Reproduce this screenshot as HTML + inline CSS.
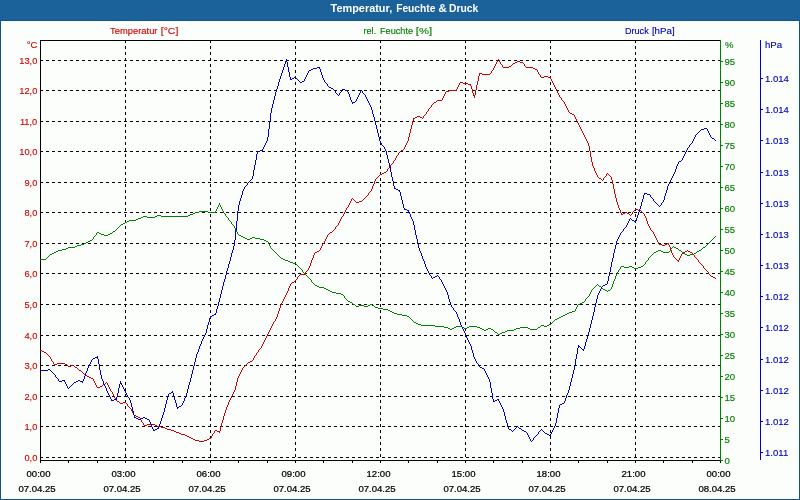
<!DOCTYPE html>
<html lang="de"><head><meta charset="utf-8"><title>Temperatur, Feuchte &amp; Druck</title>
<style>html,body{margin:0;padding:0;background:#fff;overflow:hidden}svg{display:block}</style></head>
<body>
<svg width="800" height="500" viewBox="0 0 800 500" font-family="'Liberation Sans', sans-serif" font-size="10">
<rect x="0" y="0" width="800" height="500" fill="#1c629a"/>
<rect x="0" y="20" width="800" height="480" fill="#11558f"/>
<rect x="1" y="21" width="798" height="478" fill="#fcfefb"/>
<text y="12" fill="#ffffff" font-weight="bold" font-size="10"><tspan x="330.6" textLength="61.6" lengthAdjust="spacingAndGlyphs">Temperatur,</tspan> <tspan x="396.2" textLength="39.2" lengthAdjust="spacingAndGlyphs">Feuchte</tspan> <tspan x="438.2" textLength="8.6" lengthAdjust="spacingAndGlyphs">&amp;</tspan> <tspan x="449.1" textLength="29.2" lengthAdjust="spacingAndGlyphs">Druck</tspan></text>
<text transform="translate(0,34) scale(1,0.95)" fill="#d40000" stroke="#d40000" stroke-width="0.15"><tspan x="110.1" textLength="47.4" lengthAdjust="spacingAndGlyphs">Temperatur</tspan> <tspan x="160.8" textLength="17.5" lengthAdjust="spacingAndGlyphs">[°C]</tspan></text>
<text transform="translate(0,34) scale(1,0.95)" fill="#007c00" stroke="#007c00" stroke-width="0.15"><tspan x="363.4" textLength="12.6" lengthAdjust="spacingAndGlyphs">rel.</tspan> <tspan x="380.0" textLength="33.1" lengthAdjust="spacingAndGlyphs">Feuchte</tspan> <tspan x="415.8" textLength="16.3" lengthAdjust="spacingAndGlyphs">[%]</tspan></text>
<text transform="translate(0,34) scale(1,0.95)" fill="#0000c4" stroke="#0000c4" stroke-width="0.15"><tspan x="625.0" textLength="23.7" lengthAdjust="spacingAndGlyphs">Druck</tspan> <tspan x="651.9" textLength="22.8" lengthAdjust="spacingAndGlyphs">[hPa]</tspan></text>
<g shape-rendering="crispEdges" fill="#000"><line x1="40" y1="60.5" x2="720" y2="60.5" stroke="#000" stroke-width="1" stroke-dasharray="3 3"/><line x1="40" y1="90.5" x2="720" y2="90.5" stroke="#000" stroke-width="1" stroke-dasharray="3 3"/><line x1="40" y1="121.5" x2="720" y2="121.5" stroke="#000" stroke-width="1" stroke-dasharray="3 3"/><line x1="40" y1="151.5" x2="720" y2="151.5" stroke="#000" stroke-width="1" stroke-dasharray="3 3"/><line x1="40" y1="182.5" x2="720" y2="182.5" stroke="#000" stroke-width="1" stroke-dasharray="3 3"/><line x1="40" y1="212.5" x2="720" y2="212.5" stroke="#000" stroke-width="1" stroke-dasharray="3 3"/><line x1="40" y1="243.5" x2="720" y2="243.5" stroke="#000" stroke-width="1" stroke-dasharray="3 3"/><line x1="40" y1="273.5" x2="720" y2="273.5" stroke="#000" stroke-width="1" stroke-dasharray="3 3"/><line x1="40" y1="304.5" x2="720" y2="304.5" stroke="#000" stroke-width="1" stroke-dasharray="3 3"/><line x1="40" y1="335.5" x2="720" y2="335.5" stroke="#000" stroke-width="1" stroke-dasharray="3 3"/><line x1="40" y1="365.5" x2="720" y2="365.5" stroke="#000" stroke-width="1" stroke-dasharray="3 3"/><line x1="40" y1="396.5" x2="720" y2="396.5" stroke="#000" stroke-width="1" stroke-dasharray="3 3"/><line x1="40" y1="426.5" x2="720" y2="426.5" stroke="#000" stroke-width="1" stroke-dasharray="3 3"/><line x1="40" y1="457.5" x2="720" y2="457.5" stroke="#000" stroke-width="1" stroke-dasharray="3 3"/><line x1="125.5" y1="40" x2="125.5" y2="460" stroke="#000" stroke-width="1" stroke-dasharray="3 3"/><line x1="210.5" y1="40" x2="210.5" y2="460" stroke="#000" stroke-width="1" stroke-dasharray="3 3"/><line x1="295.5" y1="40" x2="295.5" y2="460" stroke="#000" stroke-width="1" stroke-dasharray="3 3"/><line x1="380.5" y1="40" x2="380.5" y2="460" stroke="#000" stroke-width="1" stroke-dasharray="3 3"/><line x1="465.5" y1="40" x2="465.5" y2="460" stroke="#000" stroke-width="1" stroke-dasharray="3 3"/><line x1="550.5" y1="40" x2="550.5" y2="460" stroke="#000" stroke-width="1" stroke-dasharray="3 3"/><line x1="635.5" y1="40" x2="635.5" y2="460" stroke="#000" stroke-width="1" stroke-dasharray="3 3"/><rect x="40" y="40" width="681" height="1"/><rect x="40" y="40" width="1" height="421"/><rect x="40" y="460" width="681" height="1"/><rect x="40" y="461" width="1" height="2"/><rect x="68" y="461" width="1" height="2"/><rect x="97" y="461" width="1" height="2"/><rect x="125" y="461" width="1" height="2"/><rect x="153" y="461" width="1" height="2"/><rect x="182" y="461" width="1" height="2"/><rect x="210" y="461" width="1" height="2"/><rect x="238" y="461" width="1" height="2"/><rect x="267" y="461" width="1" height="2"/><rect x="295" y="461" width="1" height="2"/><rect x="323" y="461" width="1" height="2"/><rect x="352" y="461" width="1" height="2"/><rect x="380" y="461" width="1" height="2"/><rect x="408" y="461" width="1" height="2"/><rect x="437" y="461" width="1" height="2"/><rect x="465" y="461" width="1" height="2"/><rect x="493" y="461" width="1" height="2"/><rect x="522" y="461" width="1" height="2"/><rect x="550" y="461" width="1" height="2"/><rect x="578" y="461" width="1" height="2"/><rect x="607" y="461" width="1" height="2"/><rect x="635" y="461" width="1" height="2"/><rect x="663" y="461" width="1" height="2"/><rect x="692" y="461" width="1" height="2"/><rect x="720" y="461" width="1" height="2"/></g>
<g shape-rendering="crispEdges" fill="#008000"><rect x="720" y="40" width="1" height="421"/><rect x="721" y="460" width="2" height="1"/><rect x="721" y="439" width="2" height="1"/><rect x="721" y="418" width="2" height="1"/><rect x="721" y="397" width="2" height="1"/><rect x="721" y="376" width="2" height="1"/><rect x="721" y="355" width="2" height="1"/><rect x="721" y="334" width="2" height="1"/><rect x="721" y="313" width="2" height="1"/><rect x="721" y="292" width="2" height="1"/><rect x="721" y="271" width="2" height="1"/><rect x="721" y="250" width="2" height="1"/><rect x="721" y="229" width="2" height="1"/><rect x="721" y="208" width="2" height="1"/><rect x="721" y="187" width="2" height="1"/><rect x="721" y="166" width="2" height="1"/><rect x="721" y="145" width="2" height="1"/><rect x="721" y="124" width="2" height="1"/><rect x="721" y="103" width="2" height="1"/><rect x="721" y="82" width="2" height="1"/><rect x="721" y="61" width="2" height="1"/></g>
<g fill="#007c00" stroke="#007c00" stroke-width="0.15"><text transform="translate(725,48) scale(0.957,0.95)">%</text><text transform="translate(724.5,464) scale(0.957,0.95)">0</text><text transform="translate(724.5,443) scale(0.957,0.95)">5</text><text transform="translate(724.5,422) scale(0.957,0.95)">10</text><text transform="translate(724.5,401) scale(0.957,0.95)">15</text><text transform="translate(724.5,380) scale(0.957,0.95)">20</text><text transform="translate(724.5,359) scale(0.957,0.95)">25</text><text transform="translate(724.5,338) scale(0.957,0.95)">30</text><text transform="translate(724.5,317) scale(0.957,0.95)">35</text><text transform="translate(724.5,296) scale(0.957,0.95)">40</text><text transform="translate(724.5,275) scale(0.957,0.95)">45</text><text transform="translate(724.5,254) scale(0.957,0.95)">50</text><text transform="translate(724.5,233) scale(0.957,0.95)">55</text><text transform="translate(724.5,212) scale(0.957,0.95)">60</text><text transform="translate(724.5,191) scale(0.957,0.95)">65</text><text transform="translate(724.5,170) scale(0.957,0.95)">70</text><text transform="translate(724.5,149) scale(0.957,0.95)">75</text><text transform="translate(724.5,128) scale(0.957,0.95)">80</text><text transform="translate(724.5,107) scale(0.957,0.95)">85</text><text transform="translate(724.5,86) scale(0.957,0.95)">90</text><text transform="translate(724.5,65) scale(0.957,0.95)">95</text></g>
<g shape-rendering="crispEdges" fill="#0000cc"><rect x="760" y="40" width="1" height="420"/><rect x="761" y="78" width="2" height="1"/><rect x="761" y="109" width="2" height="1"/><rect x="761" y="140" width="2" height="1"/><rect x="761" y="172" width="2" height="1"/><rect x="761" y="203" width="2" height="1"/><rect x="761" y="234" width="2" height="1"/><rect x="761" y="265" width="2" height="1"/><rect x="761" y="296" width="2" height="1"/><rect x="761" y="327" width="2" height="1"/><rect x="761" y="359" width="2" height="1"/><rect x="761" y="390" width="2" height="1"/><rect x="761" y="421" width="2" height="1"/><rect x="761" y="452" width="2" height="1"/></g>
<g fill="#0000c4" stroke="#0000c4" stroke-width="0.15"><text transform="translate(765,48) scale(0.957,0.95)">hPa</text><text transform="translate(765,82) scale(0.957,0.95)">1.014</text><text transform="translate(765,113) scale(0.957,0.95)">1.014</text><text transform="translate(765,144) scale(0.957,0.95)">1.013</text><text transform="translate(765,176) scale(0.957,0.95)">1.013</text><text transform="translate(765,207) scale(0.957,0.95)">1.013</text><text transform="translate(765,238) scale(0.957,0.95)">1.013</text><text transform="translate(765,269) scale(0.957,0.95)">1.013</text><text transform="translate(765,300) scale(0.957,0.95)">1.012</text><text transform="translate(765,331) scale(0.957,0.95)">1.012</text><text transform="translate(765,363) scale(0.957,0.95)">1.012</text><text transform="translate(765,394) scale(0.957,0.95)">1.012</text><text transform="translate(765,425) scale(0.957,0.95)">1.012</text><text transform="translate(765,456) scale(0.957,0.95)">1.011</text></g>
<g fill="#d40000" stroke="#d40000" stroke-width="0.15"><text transform="translate(37.5,48) scale(0.957,0.95)" text-anchor="end">°C</text><text transform="translate(37.3,64) scale(0.93,0.95)" text-anchor="end">13,0</text><text transform="translate(37.3,94) scale(0.93,0.95)" text-anchor="end">12,0</text><text transform="translate(37.3,125) scale(0.93,0.95)" text-anchor="end">11,0</text><text transform="translate(37.3,155) scale(0.93,0.95)" text-anchor="end">10,0</text><text transform="translate(37.3,186) scale(0.93,0.95)" text-anchor="end">9,0</text><text transform="translate(37.3,216) scale(0.93,0.95)" text-anchor="end">8,0</text><text transform="translate(37.3,247) scale(0.93,0.95)" text-anchor="end">7,0</text><text transform="translate(37.3,277) scale(0.93,0.95)" text-anchor="end">6,0</text><text transform="translate(37.3,308) scale(0.93,0.95)" text-anchor="end">5,0</text><text transform="translate(37.3,339) scale(0.93,0.95)" text-anchor="end">4,0</text><text transform="translate(37.3,369) scale(0.93,0.95)" text-anchor="end">3,0</text><text transform="translate(37.3,400) scale(0.93,0.95)" text-anchor="end">2,0</text><text transform="translate(37.3,430) scale(0.93,0.95)" text-anchor="end">1,0</text><text transform="translate(37.3,461) scale(0.93,0.95)" text-anchor="end">0,0</text></g>
<g fill="#000" stroke="#000" stroke-width="0.25"><text transform="translate(38.5,477) scale(0.957,0.95)" text-anchor="middle">00:00</text><text transform="translate(37,492) scale(0.957,0.95)" text-anchor="middle">07.04.25</text><text transform="translate(123.5,477) scale(0.957,0.95)" text-anchor="middle">03:00</text><text transform="translate(122,492) scale(0.957,0.95)" text-anchor="middle">07.04.25</text><text transform="translate(208.5,477) scale(0.957,0.95)" text-anchor="middle">06:00</text><text transform="translate(207,492) scale(0.957,0.95)" text-anchor="middle">07.04.25</text><text transform="translate(293.5,477) scale(0.957,0.95)" text-anchor="middle">09:00</text><text transform="translate(292,492) scale(0.957,0.95)" text-anchor="middle">07.04.25</text><text transform="translate(378.5,477) scale(0.957,0.95)" text-anchor="middle">12:00</text><text transform="translate(377,492) scale(0.957,0.95)" text-anchor="middle">07.04.25</text><text transform="translate(463.5,477) scale(0.957,0.95)" text-anchor="middle">15:00</text><text transform="translate(462,492) scale(0.957,0.95)" text-anchor="middle">07.04.25</text><text transform="translate(548.5,477) scale(0.957,0.95)" text-anchor="middle">18:00</text><text transform="translate(547,492) scale(0.957,0.95)" text-anchor="middle">07.04.25</text><text transform="translate(633.5,477) scale(0.957,0.95)" text-anchor="middle">21:00</text><text transform="translate(632,492) scale(0.957,0.95)" text-anchor="middle">07.04.25</text><text transform="translate(718.5,477) scale(0.957,0.95)" text-anchor="middle">00:00</text><text transform="translate(717,492) scale(0.957,0.95)" text-anchor="middle">08.04.25</text></g>
<path d="M143 216.5h4M155 216.5h2M161 216.5h27M97 232.5h2M326 289.5h2M603 289.5h2M245 238.5h2M250 238.5h2M255 238.5h5M68 247.5h7M674 247.5h2M703 247.5h2M444 327.5h4M454 327.5h2M462 327.5h2M467 327.5h2M477 327.5h3M520 327.5h8M538 327.5h2M378 308.5h5M484 330.5h2M507 330.5h7M66 248.5h2M676 248.5h2M199 211.5h9M621 266.5h3M629 266.5h3M641 266.5h2M101 234.5h3M108 234.5h2M40 259.5h6M283 259.5h2M435 326.5h9M456 326.5h6M469 326.5h8M544 326.5h3M450 329.5h2M482 329.5h2M486 329.5h2M491 329.5h2M514 329.5h2M530 329.5h7M330 291.5h2M75 246.5h2M56 251.5h2M656 251.5h2M661 251.5h2M697 251.5h2M390 311.5h2M572 311.5h3M50 254.5h2M685 254.5h2M690 254.5h4M195 212.5h4M208 212.5h8M324 288.5h2M123 223.5h2M687 255.5h3M350 302.5h2M582 302.5h2M190 214.5h3M448 328.5h2M452 328.5h2M464 328.5h3M480 328.5h2M488 328.5h3M516 328.5h4M528 328.5h2M416 323.5h2M121 224.5h2M141 217.5h2M147 217.5h8M247 239.5h3M260 239.5h4M90 240.5h2M264 240.5h2M86 242.5h2M421 325.5h14M541 325.5h3M547 325.5h2M62 249.5h4M394 313.5h3M567 313.5h2M383 309.5h5M52 253.5h2M683 253.5h2M694 253.5h2M418 324.5h3M549 324.5h2M77 245.5h4M495 332.5h2M502 332.5h3M293 263.5h3M328 290.5h2M605 290.5h2M608 290.5h2M634 268.5h4M397 314.5h5M565 314.5h2M498 334.5h2M414 322.5h2M243 237.5h2M252 237.5h3M99 233.5h2M110 233.5h2M359 305.5h5M368 305.5h2M372 305.5h2M317 286.5h2M599 286.5h2M505 331.5h2M353 304.5h2M370 304.5h2M578 304.5h2M392 312.5h2M569 312.5h3M104 235.5h4M239 235.5h2M81 244.5h3M113 231.5h2M332 292.5h4M402 315.5h5M563 315.5h2M388 310.5h2M290 262.5h3M136 219.5h2M281 258.5h2M319 287.5h5M624 267.5h5M632 267.5h2M638 267.5h3M129 220.5h7M336 293.5h5M125 222.5h2M555 319.5h2M58 250.5h4M658 250.5h3M679 250.5h2M699 250.5h2M157 215.5h4M188 215.5h2M559 317.5h2M241 236.5h2M356 306.5h3M364 306.5h4M193 213.5h2M375 307.5h3M138 218.5h3M407 316.5h2M561 316.5h2M54 252.5h2M654 252.5h2M663 252.5h6M500 333.5h2M557 318.5h2M285 260.5h3M315 285.5h2M88 241.5h2M266 241.5h2M341 294.5h2M127 221.5h2M84 243.5h2M348 301.5h2M580 303.5h2M288 261.5h2M237.5 232v2M274.5 251v1M591.5 290v2M592.5 289v1M225.5 214v2M270.5 246v2M234.5 226v2M224.5 213v1M309.5 278v1M226.5 216v1M46.5 258v1M271.5 248v1M537.5 328v1M589.5 294v2M648.5 258v2M96.5 233v2M540.5 326v1M607.5 291v1M119.5 226v1M374.5 306v1M671.5 248v1M588.5 296v1M672.5 247v1M231.5 222v2M268.5 242v2M120.5 225v1M95.5 235v1M277.5 254v1M590.5 292v2M346.5 299v1M219.5 203v2M272.5 249v1M611.5 287v2M601.5 287v1M118.5 227v1M585.5 299v2M670.5 249v2M587.5 297v1M93.5 237v2M347.5 300v1M586.5 298v1M278.5 255v1M713.5 238v1M235.5 228v2M615.5 276v3M602.5 288v1M497.5 333v1M223.5 211v2M301.5 269v1M232.5 224v1M711.5 240v1M712.5 239v1M314.5 284v1M216.5 209v2M233.5 225v1M576.5 307v2M217.5 207v2M218.5 205v2M279.5 256v1M653.5 253v1M236.5 230v2M613.5 281v3M221.5 207v2M617.5 272v2M619.5 269v1M618.5 270v2M620.5 267v2M275.5 252v1M682.5 252v1M612.5 284v3M311.5 280v2M269.5 244v2M575.5 309v2M577.5 305v2M220.5 205v2M344.5 296v2M276.5 253v1M645.5 262v2M598.5 285v1M302.5 270v2M312.5 282v1M714.5 237v1M616.5 274v2M112.5 232v1M494.5 331v1M117.5 228v1M303.5 272v1M49.5 255v1M610.5 289v1M116.5 229v1M614.5 279v2M222.5 209v2M47.5 257v1M410.5 318v1M553.5 321v1M554.5 320v1M115.5 230v1M709.5 242v1M710.5 241v1M552.5 322v1M228.5 218v2M280.5 257v1M343.5 295v1M707.5 244v1M310.5 279v1M708.5 243v1M651.5 255v1M597.5 284v1M306.5 275v1M355.5 305v1M647.5 260v1M649.5 257v1M595.5 286v1M596.5 285v1M493.5 330v1M229.5 220v1M643.5 265v1M646.5 261v1M594.5 287v1M313.5 283v1M307.5 276v1M238.5 234v1M230.5 221v1M215.5 211v1M678.5 249v1M48.5 256v1M308.5 277v1M681.5 251v1M409.5 317v1M304.5 273v1M298.5 266v1M673.5 246v1M652.5 254v1M299.5 267v1M411.5 319v1M345.5 298v1M669.5 251v1M650.5 256v1M227.5 217v1M715.5 236v1M305.5 274v1M352.5 303v1M702.5 248v1M551.5 323v1M273.5 250v1M300.5 268v1M92.5 239v1M701.5 249v1M706.5 245v1M94.5 236v1M412.5 320v1M296.5 264v1M584.5 301v1M413.5 321v1M705.5 246v1M593.5 288v1M644.5 264v1M696.5 252v1M297.5 265v1" fill="none" stroke="#008000" stroke-width="1" shape-rendering="crispEdges"/>
<path d="M120 403.5h3M165 428.5h2M503 67.5h6M526 67.5h7M517 61.5h3M667 243.5h2M356 202.5h3M167 429.5h4M570 113.5h2M515 62.5h2M520 62.5h3M446 91.5h3M533 68.5h2M147 424.5h8M248 362.5h2M659 244.5h3M665 244.5h2M382 173.5h2M380 174.5h2M449 90.5h8M662 245.5h3M359 201.5h3M176 432.5h3M482 74.5h8M75 367.5h2M57 363.5h8M401 150.5h2M97 387.5h3M437 100.5h5M713 277.5h2M625 212.5h2M181 434.5h4M171 430.5h3M215 430.5h2M71 365.5h3M623 213.5h2M627 213.5h2M174 431.5h2M217 431.5h3M509 66.5h2M191 438.5h2M209 438.5h2M513 63.5h2M544 76.5h4M138 417.5h2M42 351.5h2M635 209.5h3M711 276.5h2M195 440.5h4M204 440.5h3M384 172.5h2M87 376.5h2M179 433.5h2M677 260.5h2M479 73.5h3M638 210.5h3M315 252.5h2M683 252.5h2M690 252.5h2M300 274.5h5M89 377.5h2M417 116.5h3M100 386.5h2M91 378.5h2M84 374.5h2M123 402.5h3M54 364.5h3M65 364.5h2M157 426.5h4M199 441.5h5M68 366.5h3M460 82.5h3M250 361.5h2M134 415.5h2M415 117.5h2M420 117.5h2M144 425.5h3M155 425.5h2M541 77.5h3M548 77.5h3M187 436.5h2M413 118.5h2M317 251.5h2M685 251.5h2M688 251.5h2M161 427.5h4M330 232.5h2M621 214.5h2M572 114.5h2M473 95.5h2M468 84.5h3M40 350.5h2M463 83.5h5M535 69.5h2M44 352.5h2M189 437.5h2M434 102.5h2M185 435.5h2M193 439.5h2M207 439.5h2M103 384.5h2M599 178.5h2M136 416.5h2M292 282.5h2M79 370.5h2M117 401.5h2M228.5 402v3M476.5 85v5M320.5 248v2M610.5 176v1M499.5 60v2M276.5 317v2M332.5 231v1M410.5 129v4M658.5 242v2M252.5 360v1M617.5 202v3M699.5 262v1M426.5 112v2M500.5 62v2M280.5 305v3M672.5 253v2M47.5 354v1M391.5 164v1M552.5 81v2M613.5 184v5M592.5 162v4M223.5 416v4M700.5 263v1M113.5 394v2M606.5 174v2M227.5 405v2M475.5 90v5M706.5 270v1M308.5 268v2M355.5 201v1M375.5 179v2M240.5 372v2M398.5 153v2M267.5 334v2M588.5 143v3M279.5 308v3M291.5 283v1M311.5 260v3M222.5 420v3M620.5 210v3M411.5 125v4M584.5 135v2M295.5 280v1M335.5 227v2M77.5 368v1M681.5 254v2M235.5 386v4M632.5 212v2M132.5 411v2M284.5 297v2M351.5 199v2M585.5 137v2M472.5 89v4M374.5 181v3M614.5 189v5M394.5 160v1M698.5 260v2M239.5 374v2M263.5 342v2M406.5 143v2M551.5 79v2M680.5 256v2M350.5 201v2M259.5 349v1M494.5 66v2M591.5 157v5M262.5 344v2M327.5 235v2M643.5 213v1M409.5 133v4M646.5 218v3M319.5 250v1M587.5 141v2M298.5 276v1M275.5 319v2M595.5 171v2M243.5 367v1M445.5 92v2M346.5 208v2M601.5 179v1M366.5 196v1M46.5 353v1M369.5 192v1M657.5 240v2M338.5 223v2M490.5 73v1M581.5 129v2M323.5 243v1M456.5 89v1M602.5 180v1M471.5 86v3M650.5 228v2M502.5 65v2M271.5 326v2M429.5 108v1M675.5 258v1M342.5 216v1M616.5 198v4M687.5 250v1M310.5 263v3M143.5 423v2M676.5 259v1M234.5 390v2M246.5 364v1M709.5 274v1M598.5 177v1M619.5 208v2M405.5 145v2M226.5 407v3M131.5 409v2M594.5 168v3M605.5 176v1M580.5 127v2M432.5 104v1M478.5 76v5M679.5 258v2M377.5 177v1M266.5 336v2M649.5 226v2M278.5 311v3M290.5 284v2M258.5 350v2M231.5 396v2M436.5 101v1M671.5 250v3M82.5 372v1M612.5 180v4M397.5 155v1M653.5 232v2M229.5 400v2M615.5 194v4M283.5 299v2M83.5 373v1M645.5 216v2M373.5 184v2M597.5 175v2M345.5 210v2M474.5 96v2M412.5 121v4M708.5 272v2M277.5 314v3M334.5 229v1M130.5 408v1M213.5 433v1M590.5 151v6M393.5 161v2M372.5 186v3M425.5 114v1M270.5 328v2M428.5 109v2M583.5 133v2M349.5 203v2M524.5 64v2M341.5 217v2M261.5 346v2M694.5 255v2M656.5 238v2M408.5 137v4M388.5 168v1M105.5 383v1M400.5 151v1M423.5 116v2M648.5 224v2M67.5 365v1M221.5 423v4M670.5 247v3M459.5 83v2M404.5 147v2M444.5 94v2M701.5 264v1M305.5 272v2M225.5 410v3M337.5 225v1M119.5 402v1M634.5 210v1M294.5 281v1M596.5 173v2M238.5 376v2M473.5 93v2M497.5 60v2M431.5 105v2M309.5 266v2M618.5 205v3M265.5 338v2M254.5 356v2M289.5 286v2M579.5 125v2M224.5 413v3M561.5 98v2M78.5 369v1M233.5 392v2M582.5 131v2M523.5 63v1M493.5 68v2M48.5 355v1M237.5 378v4M141.5 420v2M576.5 119v2M297.5 277v2M715.5 278v1M52.5 361v1M589.5 146v5M115.5 398v2M93.5 379v2M220.5 427v4M232.5 394v2M368.5 193v2M371.5 189v2M236.5 382v4M678.5 261v1M477.5 81v4M269.5 330v2M348.5 205v2M272.5 324v2M340.5 219v2M604.5 177v1M396.5 156v2M568.5 110v2M557.5 91v2M51.5 359v2M655.5 236v2M578.5 123v2M344.5 212v2M96.5 385v2M651.5 230v1M245.5 365v1M140.5 418v2M652.5 231v1M212.5 434v2M703.5 266v2M575.5 117v2M352.5 198v1M288.5 288v3M704.5 268v1M74.5 366v1M710.5 275v1M387.5 169v2M390.5 165v2M607.5 173v1M379.5 175v1M511.5 65v1M126.5 403v1M492.5 70v1M611.5 177v3M458.5 85v2M692.5 253v1M257.5 352v1M260.5 348v1M654.5 234v2M363.5 199v1M577.5 121v2M255.5 355v1M496.5 62v2M647.5 221v3M95.5 383v2M114.5 396v2M264.5 340v2M669.5 245v2M603.5 178v2M559.5 95v2M538.5 72v2M422.5 118v1M567.5 108v2M560.5 97v1M399.5 152v1M219.5 432v1M211.5 436v2M525.5 66v1M268.5 332v2M556.5 89v2M50.5 357v2M307.5 270v1M110.5 389v2M574.5 115v2M296.5 279v1M339.5 221v2M94.5 381v2M457.5 87v2M558.5 93v2M537.5 70v2M566.5 106v2M343.5 214v2M495.5 64v2M695.5 257v1M287.5 291v2M53.5 362v2M299.5 275v1M326.5 237v2M314.5 253v2M49.5 356v1M631.5 214v1M702.5 265v1M370.5 191v1M142.5 422v1M491.5 71v2M274.5 321v1M102.5 385v1M322.5 244v2M433.5 103v1M365.5 197v1M668.5 244v1M127.5 404v2M106.5 382v1M569.5 112v1M540.5 75v2M128.5 406v1M479.5 74v2M247.5 363v1M562.5 100v1M282.5 301v2M565.5 104v2M555.5 87v2M362.5 200v1M214.5 431v2M242.5 368v2M116.5 400v1M109.5 387v2M347.5 207v1M705.5 269v1M286.5 293v2M230.5 398v2M608.5 174v1M609.5 175v1M693.5 254v1M413.5 119v2M554.5 85v2M682.5 253v1M329.5 233v1M112.5 392v2M353.5 199v1M333.5 230v1M253.5 358v2M108.5 385v2M354.5 200v1M389.5 167v1M313.5 255v3M641.5 211v1M424.5 115v1M325.5 239v2M281.5 303v2M642.5 212v1M593.5 166v2M376.5 178v1M241.5 370v2M539.5 74v1M443.5 96v2M273.5 322v2M306.5 271v1M629.5 214v1M321.5 246v2M336.5 226v1M498.5 59v1M630.5 215v1M392.5 163v1M395.5 158v2M111.5 391v1M427.5 111v1M674.5 257v1M407.5 141v2M364.5 198v1M586.5 139v2M86.5 375v1M403.5 149v1M564.5 102v2M553.5 83v2M633.5 211v1M696.5 258v1M673.5 255v2M285.5 295v2M697.5 259v1M312.5 258v2M367.5 195v1M324.5 241v2M550.5 78v1M107.5 383v2M256.5 353v2M430.5 107v1M442.5 98v2M644.5 214v2M133.5 413v2M244.5 366v1M563.5 101v1M501.5 64v1M512.5 64v1M470.5 85v1M81.5 371v1M386.5 171v1M378.5 176v1M707.5 271v1M129.5 407v1M621.5 213v1M328.5 234v1" fill="none" stroke="#cc0000" stroke-width="1" shape-rendering="crispEdges"/>
<path d="M394 188.5h2M114 399.5h3M497 399.5h2M300 82.5h2M311 69.5h2M345 90.5h3M169 393.5h2M48 369.5h2M138 419.5h3M147 419.5h2M562 403.5h2M111 400.5h3M495 400.5h2M120 383.5h2M647 194.5h3M545 433.5h2M292 78.5h2M257 151.5h3M290 79.5h2M407 210.5h2M74 382.5h2M157 428.5h2M519 428.5h2M155 429.5h2M509 429.5h2M59 381.5h3M76 381.5h2M80 381.5h3M398 190.5h2M342 89.5h3M95 357.5h3M317 67.5h3M435 276.5h2M285 61.5h2M302 81.5h2M212 315.5h2M603 285.5h2M136 418.5h2M141 418.5h2M145 418.5h2M404 209.5h3M214 314.5h2M153 430.5h2M522 430.5h2M177 407.5h2M524 431.5h2M679 161.5h2M309 70.5h2M582 349.5h2M294 77.5h2M644 193.5h3M632 220.5h2M578 346.5h2M560 404.5h2M493 401.5h2M62 380.5h3M78 380.5h2M482 368.5h2M712 138.5h2M134 417.5h2M143 417.5h2M547 434.5h2M260 150.5h3M40 370.5h8M396 189.5h2M634 221.5h2M179 406.5h2M313 68.5h4M549 435.5h2M93 358.5h2M704 128.5h3M171 392.5h2M480 367.5h2M433 277.5h2M701 129.5h3M329 87.5h2M210 316.5h2M352 102.5h3M605 284.5h2M331 88.5h2M287.5 62v5M84.5 376v3M306.5 75v2M238.5 205v6M362.5 91v2M558.5 408v5M465.5 333v3M194.5 362v4M163.5 412v3M245.5 186v1M357.5 97v2M283.5 67v3M627.5 223v2M237.5 211v10M472.5 350v3M223.5 282v4M447.5 292v3M682.5 158v2M390.5 167v5M444.5 286v2M99.5 364v6M594.5 307v5M321.5 72v3M505.5 416v4M182.5 403v2M450.5 302v3M376.5 125v4M573.5 370v4M479.5 366v1M102.5 379v2M666.5 190v3M166.5 400v4M199.5 346v3M623.5 229v2M335.5 91v2M189.5 382v3M639.5 209v3M253.5 170v6M400.5 192v4M109.5 395v2M610.5 267v5M421.5 253v3M675.5 169v3M218.5 302v4M305.5 77v2M461.5 325v2M83.5 379v2M386.5 151v4M424.5 261v3M297.5 79v1M493.5 399v2M425.5 264v3M120.5 381v2M289.5 72v5M526.5 432v1M244.5 187v2M161.5 418v3M173.5 393v4M282.5 70v3M268.5 129v8M414.5 225v5M91.5 360v2M231.5 253v4M485.5 371v2M393.5 181v5M150.5 422v2M134.5 415v2M665.5 193v3M235.5 230v10M541.5 429v1M226.5 271v4M364.5 94v1M673.5 174v2M662.5 202v1M709.5 133v2M257.5 152v2M403.5 204v4M445.5 288v2M556.5 418v5M389.5 163v4M267.5 137v4M533.5 438v2M669.5 182v2M446.5 290v2M243.5 189v2M230.5 257v4M160.5 421v3M281.5 73v3M506.5 420v3M642.5 199v3M90.5 362v2M209.5 318v4M221.5 290v4M71.5 385v1M375.5 121v4M693.5 139v2M602.5 286v1M580.5 347v1M417.5 239v5M581.5 348v1M196.5 354v4M399.5 191v1M264.5 145v2M234.5 240v6M689.5 145v2M460.5 322v3M288.5 67v5M576.5 354v5M164.5 408v4M225.5 275v4M409.5 212v2M360.5 91v2M217.5 306v3M438.5 276v1M299.5 81v1M216.5 309v4M685.5 152v2M650.5 195v2M467.5 338v2M608.5 276v5M653.5 199v2M413.5 221v4M668.5 184v2M200.5 344v2M473.5 353v4M191.5 374v4M614.5 249v4M681.5 160v1M484.5 369v2M118.5 388v5M641.5 202v4M89.5 364v2M130.5 400v3M593.5 312v4M220.5 294v4M151.5 424v3M676.5 166v3M572.5 374v4M133.5 411v4M104.5 384v2M394.5 186v2M570.5 382v4M284.5 64v3M707.5 129v2M233.5 246v4M359.5 93v2M502.5 407v2M684.5 154v2M567.5 393v2M516.5 427v1M355.5 101v1M667.5 186v4M236.5 221v9M508.5 427v2M54.5 374v1M228.5 264v4M270.5 113v8M583.5 350v1M207.5 325v4M490.5 382v6M249.5 181v1M491.5 388v5M651.5 197v1M468.5 340v2M652.5 198v1M350.5 97v3M566.5 395v3M695.5 135v2M129.5 398v2M324.5 80v2M198.5 349v3M451.5 305v2M103.5 381v3M379.5 137v4M612.5 258v4M227.5 268v3M269.5 121v8M591.5 320v4M206.5 329v4M500.5 403v2M186.5 393v3M501.5 405v2M372.5 110v4M698.5 132v1M428.5 271v2M290.5 77v2M222.5 286v4M574.5 365v5M586.5 339v3M553.5 428v2M694.5 137v2M486.5 373v2M165.5 404v4M540.5 430v1M577.5 348v6M205.5 333v2M661.5 203v2M256.5 154v6M348.5 92v2M349.5 94v3M322.5 75v3M341.5 90v2M70.5 386v1M326.5 83v1M585.5 342v4M392.5 177v4M601.5 287v2M452.5 307v1M263.5 147v2M453.5 308v2M552.5 430v2M86.5 371v2M420.5 251v2M426.5 267v2M285.5 62v2M183.5 401v2M528.5 435v2M123.5 387v2M356.5 99v2M340.5 92v1M168.5 394v2M229.5 261v3M626.5 225v2M487.5 375v2M333.5 89v1M208.5 322v3M488.5 377v2M621.5 232v1M152.5 427v2M188.5 385v4M85.5 373v3M276.5 89v3M617.5 239v2M656.5 203v1M224.5 279v3M588.5 332v4M100.5 370v5M119.5 384v4M50.5 370v1M175.5 400v3M271.5 108v5M454.5 310v1M455.5 311v1M401.5 196v4M620.5 233v2M110.5 397v2M462.5 327v2M275.5 92v4M714.5 139v1M616.5 241v4M636.5 218v3M534.5 437v1M121.5 384v1M437.5 275v1M595.5 303v4M232.5 250v3M530.5 439v2M699.5 131v1M527.5 433v2M475.5 359v2M153.5 429v1M690.5 144v1M106.5 388v3M361.5 90v1M674.5 172v2M82.5 382v1M538.5 432v2M365.5 95v2M635.5 222v1M658.5 205v1M504.5 412v4M202.5 339v2M174.5 397v3M52.5 372v1M53.5 373v1M240.5 198v3M117.5 393v4M278.5 82v4M598.5 293v2M630.5 218v1M439.5 277v2M410.5 214v3M442.5 282v2M631.5 219v1M471.5 346v4M201.5 341v3M273.5 100v4M319.5 68v1M514.5 429v1M449.5 299v3M551.5 432v2M101.5 375v4M323.5 78v2M131.5 403v4M105.5 386v2M239.5 201v4M638.5 212v3M363.5 93v1M402.5 200v4M597.5 295v4M247.5 183v2M367.5 99v2M423.5 259v2M711.5 137v1M629.5 219v2M427.5 269v2M272.5 104v4M613.5 253v5M625.5 227v1M66.5 384v2M55.5 375v2M664.5 196v4M408.5 211v1M246.5 185v1M440.5 279v1M469.5 342v2M644.5 194v1M575.5 359v6M441.5 280v2M242.5 191v4M254.5 165v5M448.5 295v4M325.5 82v1M578.5 345v1M578.5 347v1M195.5 358v4M422.5 256v3M387.5 155v4M671.5 178v2M429.5 273v2M92.5 359v1M125.5 391v2M565.5 398v3M122.5 385v2M415.5 230v5M64.5 381v1M56.5 377v1M88.5 366v2M65.5 382v2M57.5 378v1M132.5 407v4M611.5 262v5M590.5 324v4M537.5 434v1M569.5 386v4M654.5 201v1M185.5 396v2M532.5 440v1M655.5 202v1M670.5 180v2M515.5 428v1M507.5 423v4M678.5 162v2M308.5 71v2M327.5 84v2M457.5 314v3M492.5 393v6M464.5 331v2M97.5 356v1M97.5 358v1M430.5 275v1M184.5 398v3M98.5 359v5M193.5 366v4M643.5 195v4M529.5 437v2M513.5 430v1M124.5 389v2M474.5 357v2M352.5 103v1M584.5 346v3M677.5 164v2M489.5 379v3M307.5 73v2M381.5 143v2M609.5 272v4M700.5 130v1M388.5 159v4M255.5 160v5M192.5 370v4M172.5 391v1M374.5 117v4M176.5 403v4M51.5 371v1M592.5 316v4M559.5 405v3M571.5 378v4M250.5 180v1M187.5 389v4M596.5 299v4M412.5 219v2M587.5 336v3M531.5 441v1M72.5 384v1M351.5 100v2M476.5 361v2M159.5 424v3M266.5 141v2M69.5 387v1M380.5 141v2M383.5 146v1M663.5 200v2M687.5 148v2M366.5 97v2M369.5 103v2M607.5 281v3M373.5 114v3M167.5 396v4M158.5 427v1M265.5 143v2M190.5 378v4M219.5 298v4M286.5 59v2M686.5 150v2M557.5 413v5M162.5 415v3M443.5 284v2M320.5 69v3M334.5 90v1M181.5 405v1M116.5 397v2M108.5 393v2M252.5 176v3M304.5 79v2M589.5 328v4M368.5 101v2M568.5 390v3M503.5 409v3M149.5 420v2M637.5 215v3M708.5 131v2M470.5 344v2M555.5 423v3M696.5 134v1M280.5 76v3M391.5 172v5M377.5 129v4M692.5 141v2M659.5 206v1M535.5 436v1M241.5 195v3M554.5 426v2M68.5 388v1M58.5 379v2M691.5 143v1M600.5 289v2M274.5 96v4M358.5 95v2M615.5 245v4M683.5 156v2M338.5 95v1M87.5 368v3M624.5 228v1M418.5 244v4M431.5 276v2M411.5 217v2M127.5 395v2M67.5 386v2M478.5 364v2M378.5 133v4M251.5 179v1M277.5 86v3M618.5 237v2M382.5 145v1M499.5 401v2M385.5 149v2M296.5 78v1M371.5 107v3M416.5 235v4M459.5 319v3M456.5 312v2M688.5 147v1M463.5 329v2M204.5 335v2M536.5 435v1M107.5 391v2M539.5 431v1M419.5 248v3M384.5 147v2M203.5 337v2M298.5 80v1M370.5 105v2M210.5 317v1M511.5 430v1M279.5 79v3M512.5 431v1M339.5 93v2M640.5 206v3M599.5 291v2M710.5 135v2M177.5 408v1M619.5 235v2M657.5 204v1M697.5 133v1M518.5 427v1M197.5 352v2M336.5 93v1M564.5 401v2M337.5 94v1M672.5 176v2M466.5 336v2M73.5 383v1M126.5 393v2M550.5 434v1M542.5 430v1M543.5 431v1M404.5 208v1M498.5 400v1M215.5 313v1M628.5 221v2M458.5 317v2M347.5 91v1M432.5 278v1M128.5 397v1M622.5 231v1M544.5 432v1M248.5 182v1M521.5 429v1M477.5 363v1M111.5 399v1M660.5 205v1M715.5 140v1M517.5 426v1M328.5 86v1M262.5 149v1" fill="none" stroke="#0000cc" stroke-width="1" shape-rendering="crispEdges"/>
</svg>
</body></html>
